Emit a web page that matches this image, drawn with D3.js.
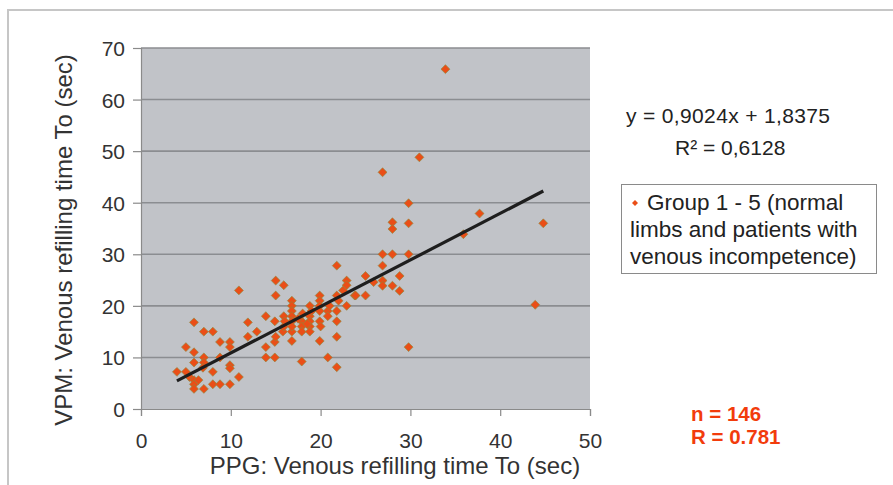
<!DOCTYPE html>
<html>
<head>
<meta charset="utf-8">
<script src="https://cdn.jsdelivr.net/npm/d3@7"></script>
<style>
  body { margin: 0; background: #fff; }
  svg { display: block; font-family: "Liberation Sans", Arial, sans-serif; }
</style>
</head>
<body>
<svg id="chart" width="893" height="485"></svg>
<script>
// PPG (x) vs VPM (y) refilling times
const ppg = [4, 5, 5, 5.4, 5.9, 5.9, 5.9, 5.9, 5.9, 5.9, 6.4, 7, 7, 7, 6.9, 7, 8, 8, 8, 8.8, 8.8, 8.8, 9.9, 9.9, 9.9, 9.9, 9.9, 10.9, 10.9,
  11.9, 11.9, 12.9, 13.9, 13.9, 13.9, 14.9, 14.9, 15, 14.9, 15, 15, 15.9, 15.9, 15.8, 15.9, 16.8, 16.8, 16.8, 16.8, 16.8, 16.8, 16.8, 16.8, 16,
  17.9, 17.9, 17.9, 17.9, 18.8, 18.8, 18.8, 18.8, 18.8, 19.9, 19.9, 19.9, 19.9, 19.9, 19.9, 20.8, 20.8, 20.8, 21.8, 21.8, 21.8, 21.8, 21.8, 21.8,
  22.9, 22.9, 22.9, 23.8, 18, 19, 20, 21, 22, 22.5, 18.5, 17.5,
  25, 25, 23.9, 25.9, 26.9, 26.9, 26.9, 26.9, 28, 29.8, 28, 28.8, 28.8, 28, 28, 29.8, 29.8, 26.9, 31, 33.9, 29.8, 35.9, 37.7, 44.8, 43.9];
const vpm = [7.2, 7.2, 12, 6.2, 16.8, 11, 9, 5.6, 4.8, 3.9, 5.6, 15, 10, 9, 8, 3.9, 15, 7.2, 4.8, 13, 10, 4.8, 13, 12, 8.5, 7.9, 4.8, 23, 6.2,
  16.8, 14, 15, 18, 12, 10, 10, 13, 14, 17, 24.9, 22, 24, 18, 15, 16, 21, 20, 19, 18, 17, 15, 13.2, 16, 17,
  17, 16, 15, 9.2, 20, 18, 17, 16, 15, 22, 21, 20, 19, 17, 13.2, 19, 18, 10, 27.8, 22, 19, 17, 14, 8.1,
  24.9, 24, 20, 22, 18.5, 19, 16, 20, 21, 23, 16.5, 17.5,
  25.8, 22, 22, 24.6, 24.9, 23.9, 27.8, 30, 30, 30, 23.9, 25.8, 22.9, 36.2, 34.9, 36, 39.9, 45.9, 48.8, 65.9, 12, 33.9, 37.9, 36, 20.2];

const xTicks = [0, 10, 20, 30, 40, 50];
const yTicks = [0, 10, 20, 30, 40, 50, 60, 70];
const slope = 0.9024, intercept = 1.8375;
const trendX = [4, 44.8];
const eqLabel = "y = 0,9024x + 1,8375";
const r2Label = "R\u00B2 = 0,6128";
const legendLines = ["Group 1 - 5 (normal", "limbs and patients with", "venous incompetence)"];
const statLines = ["n = 146", "R = 0.781"];

const svg = d3.select("#chart");

// outer frame (light gray line at top and left)
svg.append("path")
  .attr("d", "M8,485 V10 H893")
  .attr("fill", "none")
  .attr("stroke", "#c6c6c6")
  .attr("stroke-width", 2);

const plotL = 141, plotR = 590, plotT = 48, plotB = 409;

const x = d3.scaleLinear().domain([0, 50]).range([plotL, plotR]);
const y = d3.scaleLinear().domain([0, 70]).range([plotB, plotT]);

// plot background
svg.append("rect")
  .attr("x", plotL).attr("y", plotT)
  .attr("width", plotR - plotL).attr("height", plotB - plotT)
  .attr("fill", "#c1c3c8");

// gridlines
svg.append("g")
  .selectAll("line")
  .data(yTicks.filter(d => d > 0))
  .enter().append("line")
  .attr("x1", plotL).attr("x2", plotR)
  .attr("y1", d => y(d)).attr("y2", d => y(d))
  .attr("stroke", "#8b8d91")
  .attr("stroke-width", 1.6);

// axes
const yAxis = d3.axisLeft(y).tickValues(yTicks).tickSize(8).tickPadding(8);
const gy = svg.append("g").attr("transform", "translate(" + plotL + ",0)").call(yAxis);
const xAxis = d3.axisBottom(x).tickValues(xTicks).tickSize(7).tickPadding(17);
const gx = svg.append("g").attr("transform", "translate(0," + plotB + ")").call(xAxis);

[gx, gy].forEach(g => {
  g.select(".domain").attr("stroke", "#8a8a8a").attr("stroke-width", 1.2);
  g.selectAll(".tick line").attr("stroke", "#8a8a8a").attr("stroke-width", 1.2);
  g.selectAll(".tick text")
    .attr("fill", "#333")
    .style("font-family", "Liberation Sans, Arial, sans-serif")
    .style("font-size", "21px");
});
gy.selectAll(".tick text").attr("dy", "0.36em");

// axis titles
svg.append("text")
  .attr("x", 395).attr("y", 474)
  .attr("text-anchor", "middle")
  .attr("fill", "#333")
  .style("font-size", "24px")
  .text("PPG: Venous refilling time To (sec)");

svg.append("text")
  .attr("transform", "translate(72,240) rotate(-90)")
  .attr("text-anchor", "middle")
  .attr("fill", "#333")
  .style("font-size", "24px")
  .text("VPM: Venous refilling time To (sec)");

// points
const points = ppg.map((d, i) => ({ x: d, y: vpm[i] }));
svg.append("g")
  .selectAll("path")
  .data(points)
  .enter().append("path")
  .attr("d", d3.symbol(d3.symbolSquare, 40))
  .attr("transform", d => "translate(" + x(d.x) + "," + y(d.y) + ") rotate(45)")
  .attr("fill", "#ea4e17")
  .attr("stroke", "#8d8a3e")
  .attr("stroke-width", 0.6);

// trend line
svg.append("line")
  .attr("x1", x(trendX[0])).attr("y1", y(slope * trendX[0] + intercept))
  .attr("x2", x(trendX[1])).attr("y2", y(slope * trendX[1] + intercept))
  .attr("stroke", "#1e1e1e")
  .attr("stroke-width", 3.2);

// equation
svg.append("text")
  .attr("x", 626).attr("y", 123)
  .attr("fill", "#222")
  .attr("textLength", 204)
  .style("font-size", "21px")
  .text(eqLabel);

svg.append("text")
  .attr("x", 675).attr("y", 155)
  .attr("fill", "#222")
  .style("font-size", "21px")
  .text(r2Label);

// legend
svg.append("rect")
  .attr("x", 621.5).attr("y", 184.5)
  .attr("width", 255).attr("height", 89)
  .attr("fill", "#fff")
  .attr("stroke", "#8a8a8a")
  .attr("stroke-width", 1);

svg.append("path")
  .attr("d", d3.symbol(d3.symbolSquare, 18))
  .attr("transform", "translate(635,203) rotate(45)")
  .attr("fill", "#ea4e17");

svg.append("g")
  .selectAll("text")
  .data(legendLines)
  .enter().append("text")
  .attr("x", (d, i) => i === 0 ? 647 : 630)
  .attr("y", (d, i) => 210 + i * 27)
  .attr("fill", "#222")
  .style("font-size", "22.5px")
  .text(d => d);

// n / R annotation
svg.append("g")
  .selectAll("text")
  .data(statLines)
  .enter().append("text")
  .attr("x", 691)
  .attr("y", (d, i) => 421 + i * 23)
  .attr("fill", "#f23c0c")
  .style("font-size", "20.5px")
  .style("font-weight", "bold")
  .text(d => d);
</script>
</body>
</html>
